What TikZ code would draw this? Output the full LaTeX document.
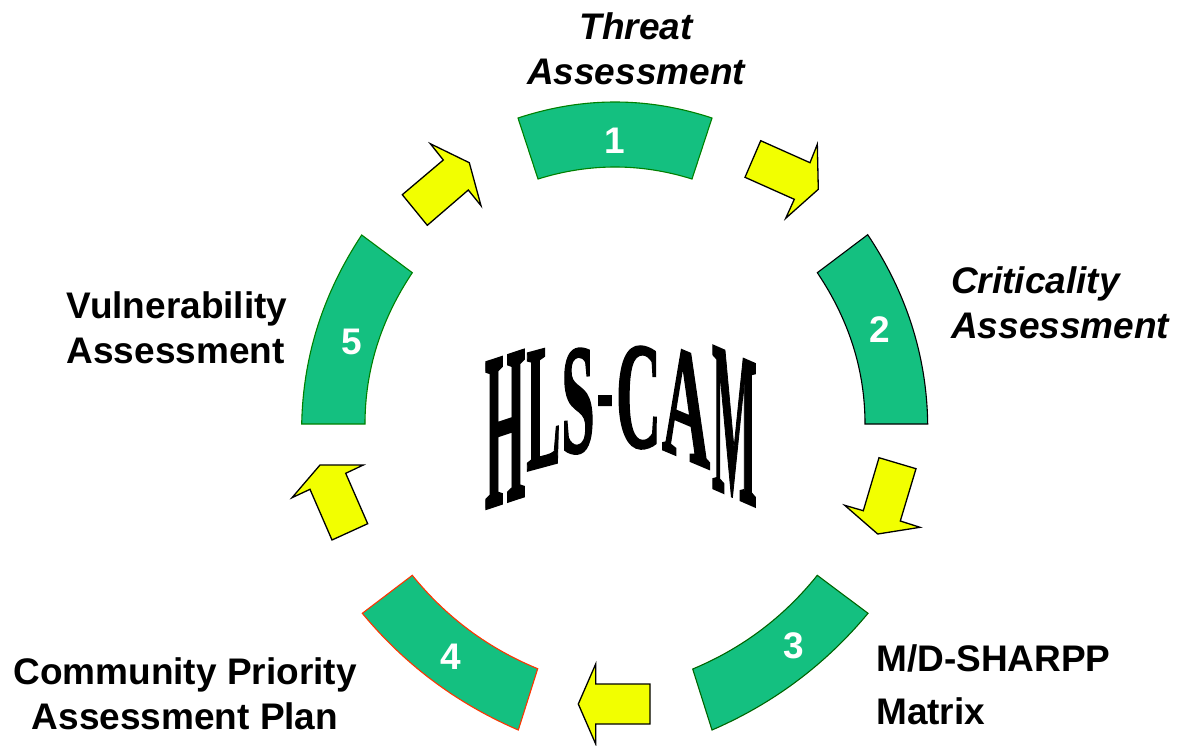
\documentclass[tikz,border=0pt]{standalone}
\usepackage{fontspec}
\setmainfont{Liberation Sans}
\newfontfamily\wordart[BoldFeatures={FakeBold=1.6}]{Liberation Serif}
\usetikzlibrary{calc}
\definecolor{segfill}{RGB}{20,192,128}
\definecolor{arrowfill}{RGB}{242,255,0}
\definecolor{seggreen}{RGB}{0,128,0}
\definecolor{segdark}{RGB}{0,100,0}
\definecolor{segred}{RGB}{255,51,0}
\tikzset{
  seg/.style={fill=segfill,line width=1.1pt,line join=miter},
  arrowshape/.style={fill=arrowfill,draw=black,line width=1.3pt,line join=miter},
  num/.style={font=\fontsize{37}{37}\selectfont\bfseries,text=white,inner sep=0pt},
  lab/.style={font=\fontsize{37}{45}\selectfont\bfseries,inner sep=0pt},
  wa/.style={font=\fontsize{40}{40}\selectfont\wordart\bfseries,inner sep=0pt,anchor=base,transform shape}
}
% #1 style; #2-#5 corners A,B,C,D; #6 control of A-B; #7 control of C-D
\newcommand{\ringseg}[7]{%
  \draw[seg,#1] #2 .. controls ($#2!2/3!#6$) and ($#3!2/3!#6$) .. #3 -- #4
    .. controls ($#4!2/3!#7$) and ($#5!2/3!#7$) .. #5 -- cycle;}
\begin{document}
\begin{tikzpicture}[x=1pt,y=-1pt]
\useasboundingbox (0,0) rectangle (1177,745);
% ring segments
\ringseg{draw=seggreen}{(518,118)}{(712,118)}{(692,179)}{(538,179)}{(615,86)}{(615,155)}
\ringseg{draw=black}{(867.7,234.7)}{(927.7,424)}{(865,424)}{(817.3,272.7)}{(926.3,322.7)}{(865,343.5)}
\ringseg{draw=segdark}{(868,613.3)}{(712,730)}{(692.7,669)}{(817.3,575.3)}{(804,690.3)}{(767,638)}
\ringseg{draw=segred}{(362.3,613.3)}{(518.3,730)}{(537.7,668.7)}{(412.3,575.3)}{(426,690.3)}{(463,638)}
\ringseg{draw=seggreen}{(361.7,235)}{(301.7,424)}{(365,424)}{(412.3,272.7)}{(303.7,322.7)}{(365,343.5)}
% arrows
\draw[arrowshape] (760.7,140.7) -- (810,162.7) -- (817.3,144.3) -- (818.3,189.3) -- (785.7,218.3) -- (794.3,199.3) -- (745,177.3) -- cycle;
\draw[arrowshape] (879,457.7) -- (916,468.7) -- (900.3,521) -- (920,527.3) -- (877.7,534) -- (844.7,505.3) -- (863.3,510.7) -- cycle;
\draw[arrowshape] (650,684) -- (595.7,684) -- (595.7,664) -- (578.3,704) -- (595.7,744) -- (595.7,724) -- (650,724) -- cycle;
\draw[arrowshape] (367.7,523.7) -- (345.7,473.3) -- (363.3,465) -- (320,465) -- (292,497.7) -- (310,489.3) -- (332,540) -- cycle;
\draw[arrowshape] (402.3,194.7) -- (443.3,160) -- (430.3,143.7) -- (469.3,162.7) -- (481,205.7) -- (468.3,190) -- (427.3,225.3) -- cycle;
% numbers
\node[num] (n1) at (615,141) {1};
\node[num] (n2) at (879.5,330) {2};
\node[num] (n3) at (794,646) {3};
\node[num] (n4) at (450.5,657) {4};
\node[num] (n5) at (351.5,342) {5};
% labels
\node[lab,align=center,font=\fontsize{37}{45}\selectfont\bfseries\itshape] (threat) at (636,49) {Threat\\Assessment};
\node[lab,align=left,anchor=west,font=\fontsize{37}{45}\selectfont\bfseries\itshape] (crit) at (951,303) {Criticality\\Assessment};
\node[lab,align=left,anchor=west] (vuln) at (66.5,328) {Vulnerability\\Assessment};
\node[lab,align=left,anchor=west,font=\fontsize{37}{53}\selectfont\bfseries] (msh) at (876,685) {M/D-SHARPP\\Matrix};
\node[lab,align=center] (comm) at (185,694) {Community Priority\\Assessment Plan};
% warped title
\path (505,502) node[wa,cm={1.3,0.43,0,5.55,(0,0)}] (tH) {H};
\path (543.5,466) node[wa,cm={1.28,0.345,0,4.45,(0,0)}] (tL) {L};
\path (578,452) node[wa,cm={1.5,0.15,0,3.9,(0,0)}] (tS) {S};
\path (605,426) node[wa,cm={1.25,0,0,2.7,(0,0)}] (tD) {-};
\path (638.5,447) node[wa,cm={1.56,-0.07,0,3.8,(0,0)}] (tC) {C};
\path (686,459) node[wa,cm={1.66,-0.70,0,4.05,(0,0)}] (tA) {A};
\path (734.5,497) node[wa,cm={1.19,-0.52,0,5.4,(0,0)}] (tM) {M};
\end{tikzpicture}
\end{document}
